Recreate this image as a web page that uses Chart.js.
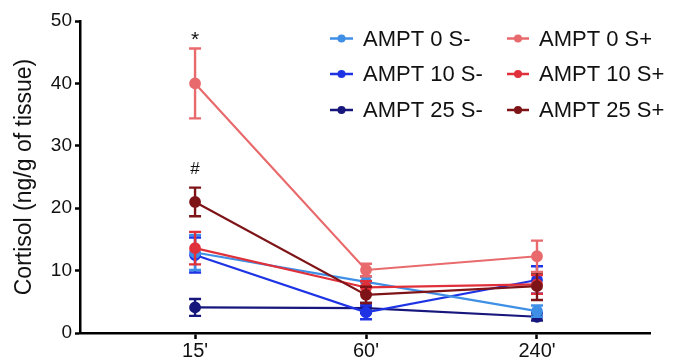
<!DOCTYPE html>
<html>
<head>
<meta charset="utf-8">
<script src="https://cdn.jsdelivr.net/npm/chart.js@4"></script>
<style>
html,body{margin:0;padding:0;background:#fff;}
#wrap{width:674px;height:361px;position:relative;}
</style>
</head>
<body>
<div id="wrap"><canvas id="c" width="674" height="361"></canvas></div>
<script>
// ---- data ----
const categories = ["15'", "60'", "240'"];
const yTicks = [0, 10, 20, 30, 40, 50];

const ampt0Sminus  = [12.9, 8.2, 3.5];
const ampt0SminusErr  = [2.8, 0.8, 0.9];
const ampt10Sminus = [12.5, 3.3, 8.5];
const ampt10SminusErr = [2.8, 1.1, 2.2];
const ampt25Sminus = [4.1, 4.0, 2.6];
const ampt25SminusErr = [1.35, 0.8, 0.6];
const ampt0Splus   = [40.0, 10.1, 12.3];
const ampt0SplusErr   = [5.6, 1.0, 2.5];
const ampt10Splus  = [13.6, 7.3, 7.8];
const ampt10SplusErr  = [2.6, 1.0, 1.5];
const ampt25Splus  = [21.0, 6.1, 7.5];
const ampt25SplusErr  = [2.3, 1.3, 2.2];

const annotations = [
  {text: '*', cat: 0, value: 46.0, size: 21},
  {text: '#', cat: 0, value: 25.5, size: 17}
];

// ---- build ----
function pts(arr){ return arr.map((v,i)=>({x:i, y:v})); }
function ds(label, vals, errs, color){
  return {
    label, data: pts(vals), errors: errs,
    borderColor: color, backgroundColor: color,
    pointBackgroundColor: color, pointBorderColor: color,
    borderWidth: 2.2, pointRadius: 4.8, pointHoverRadius: 4.8, tension: 0
  };
}
const datasets = [
  ds('AMPT 0 S+',  ampt0Splus,  ampt0SplusErr,  '#E96A6C'),
  ds('AMPT 25 S+', ampt25Splus, ampt25SplusErr, '#7E1417'),
  ds('AMPT 10 S+', ampt10Splus, ampt10SplusErr, '#E0303A'),
  ds('AMPT 0 S-',  ampt0Sminus, ampt0SminusErr, '#3F8FE6'),
  ds('AMPT 10 S-', ampt10Sminus, ampt10SminusErr, '#1E33E4'),
  ds('AMPT 25 S-', ampt25Sminus, ampt25SminusErr, '#16167C')
];
const legendCols = [
  ['AMPT 0 S-', 'AMPT 10 S-', 'AMPT 25 S-'],
  ['AMPT 0 S+', 'AMPT 10 S+', 'AMPT 25 S+']
];

const FONT = "'Liberation Sans', Arial, Helvetica, sans-serif";

const errorBars = {
  id: 'errorBars',
  afterDatasetDraw(chart, args){
    const d = chart.data.datasets[args.index];
    const xs = chart.scales.x, ys = chart.scales.y;
    const ctx = chart.ctx;
    ctx.save();
    ctx.strokeStyle = d.borderColor;
    ctx.lineWidth = 2.4;
    d.data.forEach((p,i)=>{
      const e = d.errors[i];
      const x = xs.getPixelForValue(p.x);
      const y1 = ys.getPixelForValue(p.y + e);
      const y2 = ys.getPixelForValue(p.y - e);
      const w = 6;
      ctx.beginPath();
      ctx.moveTo(x, y1); ctx.lineTo(x, y2);
      ctx.moveTo(x-w, y1); ctx.lineTo(x+w, y1);
      ctx.moveTo(x-w, y2); ctx.lineTo(x+w, y2);
      ctx.stroke();
    });
    ctx.restore();
  }
};

const extras = {
  id: 'extras',
  afterDraw(chart){
    const ctx = chart.ctx;
    const xs = chart.scales.x, ys = chart.scales.y;
    ctx.save();
    // annotations
    ctx.fillStyle = '#111';
    ctx.textAlign = 'center';
    ctx.textBaseline = 'alphabetic';
    annotations.forEach(a=>{
      ctx.font = a.size + 'px ' + FONT;
      ctx.fillText(a.text, xs.getPixelForValue(a.cat), ys.getPixelForValue(a.value));
    });
    // legend
    const colX = [[330, 353, 363], [507, 529, 539]];
    const rowY = [38.5, 74, 110];
    ctx.font = '22px ' + FONT;
    ctx.textAlign = 'left';
    ctx.textBaseline = 'middle';
    legendCols.forEach((col, ci)=>{
      col.forEach((lab, ri)=>{
        const d = chart.data.datasets.find(s=>s.label===lab);
        const [x1, x2, tx] = colX[ci];
        const y = rowY[ri];
        ctx.strokeStyle = d.borderColor;
        ctx.fillStyle = d.borderColor;
        ctx.lineWidth = 2.5;
        ctx.beginPath(); ctx.moveTo(x1, y); ctx.lineTo(x2, y); ctx.stroke();
        ctx.beginPath(); ctx.arc((x1+x2)/2, y, 4, 0, Math.PI*2); ctx.fill();
        ctx.fillStyle = '#111';
        ctx.fillText(lab, tx, y + 1);
      });
    });
    ctx.restore();
  }
};

new Chart(document.getElementById('c'), {
  type: 'line',
  data: { datasets },
  plugins: [errorBars, extras],
  options: {
    responsive: false,
    animation: false,
    devicePixelRatio: 1,
    layout: { padding: { top: 21, right: 24, left: 0, bottom: 0 } },
    plugins: { legend: { display: false }, tooltip: { enabled: false } },
    scales: {
      x: {
        type: 'linear',
        min: -0.673, max: 2.661,
        afterBuildTicks(s){ s.ticks = categories.map((c,i)=>({value:i})); },
        afterFit(s){ s.height = 28; },
        ticks: {
          callback: (v)=>categories[v],
          font: { family: FONT, size: 20 },
          color: '#111', padding: 0, maxRotation: 0, autoSkip: false
        },
        grid: { drawOnChartArea: false, tickLength: 6, tickWidth: 2.5, tickColor: '#000' },
        border: { color: '#000', width: 2.5 }
      },
      y: {
        min: 0, max: 50,
        afterBuildTicks(s){ s.ticks = yTicks.map(v=>({value:v})); },
        afterFit(s){ s.width = 80; },
        ticks: {
          font: { family: FONT, size: 19 },
          color: '#111', padding: 3
        },
        grid: { drawOnChartArea: false, tickLength: 5, tickWidth: 2.5, tickColor: '#000' },
        border: { color: '#000', width: 2.5 },
        title: {
          display: true, text: 'Cortisol (ng/g of tissue)',
          font: { family: FONT, size: 23 }, color: '#111',
          padding: { top: 11, bottom: 0 }
        }
      }
    }
  }
});
</script>
</body>
</html>
